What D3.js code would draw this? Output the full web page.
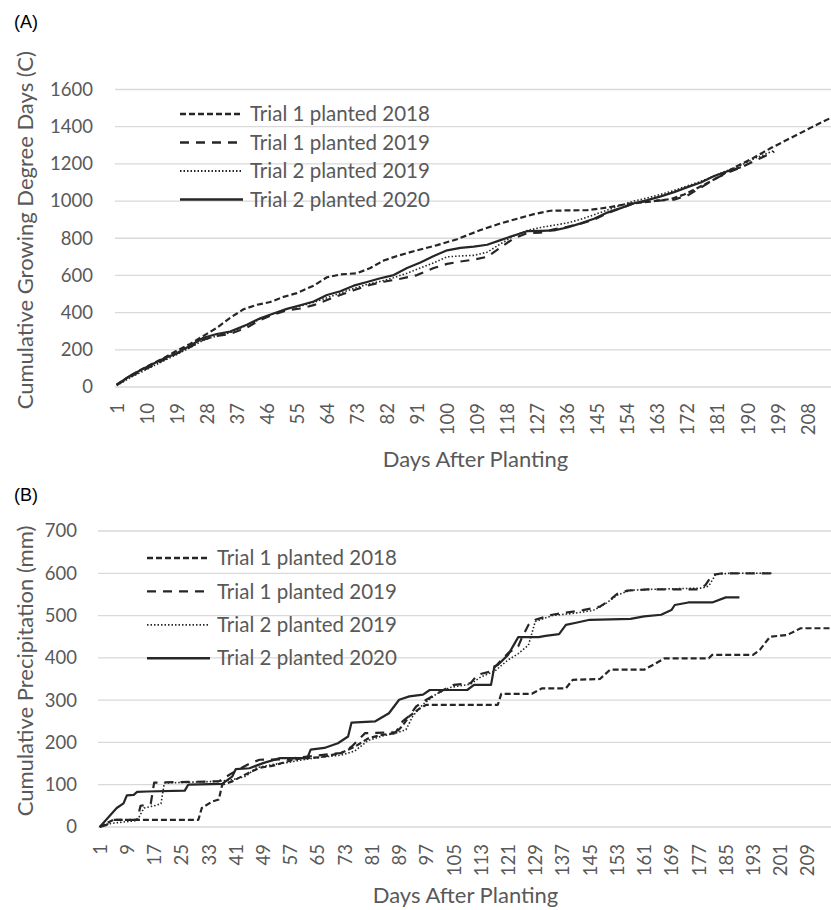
<!DOCTYPE html>
<html>
<head>
<meta charset="utf-8">
<script src="https://cdn.jsdelivr.net/npm/d3@7"></script>
<style>
  html, body { margin: 0; padding: 0; background: #fff; }
  svg { display: block; }
  text { font-family: Lato, "Open Sans", "Liberation Sans", sans-serif; }
</style>
</head>
<body>
<svg id="chart" width="831" height="910"></svg>
<script>
// ---- Data -------------------------------------------------------------
const seriesNames = [
  "Trial 1 planted 2018",
  "Trial 1 planted 2019",
  "Trial 2 planted 2019",
  "Trial 2 planted 2020"
];

// Cumulative growing degree days (C), as [day after planting, value]
const gddT1y2018 = [[1,12],[5,60],[10,110],[15,155],[19,195],[23,232],[27,275],[31,318],[35,372],[39,418],[43,442],[47,457],[51,485],[55,505],[60,545],[64,590],[68,605],[73,612],[77,640],[81,680],[85,705],[91,735],[97,763],[103,795],[110,844],[116,880],[121,905],[126,930],[131,948],[137,950],[142,951],[148,965],[154,985],[160,995],[167,1011],[171,1035],[175,1070],[181,1125],[186,1180],[191,1225],[197,1285],[203,1340],[209,1395],[216,1457]];
const gddT1y2019 = [[1,10],[5,55],[10,100],[15,145],[19,180],[23,215],[27,255],[31,275],[35,285],[40,320],[44,360],[48,390],[52,412],[56,422],[60,440],[64,468],[68,495],[72,520],[76,545],[81,566],[86,582],[91,602],[96,640],[100,662],[104,675],[108,685],[112,700],[116,750],[120,800],[124,828],[128,830],[132,848],[136,862],[140,878],[144,900],[148,935],[152,962],[156,988],[160,1000],[164,1003],[168,1008],[172,1030],[176,1072],[180,1118],[184,1152],[188,1180],[192,1215],[198,1265]];
const gddT2y2019 = [[1,8],[5,50],[10,95],[15,140],[19,175],[23,212],[27,252],[31,275],[35,292],[40,332],[44,365],[48,395],[52,420],[56,435],[60,455],[64,480],[68,505],[72,530],[76,552],[80,568],[84,588],[88,612],[92,640],[96,668],[100,700],[104,705],[108,708],[112,725],[116,770],[120,812],[124,842],[128,858],[132,870],[136,882],[140,902],[144,926],[148,952],[152,977],[156,1000],[160,1017],[164,1036],[168,1057],[172,1082],[176,1106],[180,1135],[184,1165],[188,1192],[192,1228],[198,1272]];
const gddT2y2020 = [[1,12],[5,60],[10,108],[15,152],[19,182],[23,222],[27,265],[31,285],[35,298],[40,335],[44,370],[48,395],[52,420],[56,440],[60,460],[64,495],[68,515],[72,545],[76,565],[80,585],[84,602],[88,640],[92,670],[96,705],[100,735],[104,748],[108,755],[112,765],[116,790],[120,815],[124,838],[128,840],[132,842],[136,858],[140,880],[144,905],[148,938],[152,962],[156,988],[160,1005],[164,1025],[168,1048],[172,1075],[176,1100],[180,1135],[184,1160],[188,1182]];

// Cumulative precipitation (mm), as [day after planting, value]
const rainT1y2018 = [[1,0],[5,17],[30,17],[31,45],[34,60],[36,65],[37,100],[40,108],[44,125],[48,140],[52,145],[56,155],[60,162],[66,165],[72,175],[76,190],[80,210],[84,218],[88,222],[90,240],[92,262],[95,280],[97,289],[118,289],[119,315],[128,315],[131,328],[138,328],[140,348],[148,350],[151,372],[161,372],[164,385],[167,399],[180,399],[181,407],[193,407],[195,419],[198,450],[203,454],[207,470],[216,470]];
const rainT1y2019 = [[1,0],[3,5],[5,17],[12,17],[13,50],[16,55],[17,105],[36,108],[40,128],[45,150],[48,159],[56,160],[60,165],[66,170],[72,175],[75,190],[79,222],[88,224],[90,250],[92,263],[94,285],[97,301],[102,324],[105,336],[110,340],[112,360],[116,368],[119,395],[121,411],[124,427],[125,446],[127,478],[129,490],[134,502],[143,513],[148,521],[151,537],[153,551],[156,559],[162,562],[177,562],[179,572],[181,596],[184,600],[199,600]];
const rainT2y2019 = [[1,0],[4,8],[8,12],[12,15],[14,45],[17,50],[19,55],[20,104],[36,108],[40,112],[44,120],[47,140],[52,148],[56,152],[60,158],[66,165],[72,170],[76,180],[80,205],[84,215],[88,222],[91,230],[93,262],[96,290],[100,315],[104,330],[110,338],[113,355],[117,368],[121,395],[124,410],[127,430],[129,486],[134,500],[140,505],[146,512],[150,530],[153,548],[157,560],[163,562],[178,565],[180,570],[182,597],[186,600],[199,600]];
const rainT2y2020 = [[1,0],[6,45],[8,56],[9,75],[11,76],[12,83],[15,84],[26,86],[27,100],[37,102],[40,120],[41,137],[45,139],[49,151],[54,163],[62,163],[63,183],[67,187],[71,198],[74,214],[75,247],[82,250],[86,269],[89,301],[92,309],[96,313],[98,324],[109,324],[111,336],[116,336],[117,380],[118,383],[121,407],[124,449],[130,449],[132,452],[136,456],[138,478],[141,483],[145,490],[157,492],[161,498],[166,502],[169,513],[170,525],[174,531],[181,531],[185,543],[189,543]];

// Axis tick labels
const gddValueTicks = [0, 200, 400, 600, 800, 1000, 1200, 1400, 1600];
const rainValueTicks = [0, 100, 200, 300, 400, 500, 600, 700];
const gddDayTicks = [1,10,19,28,37,46,55,64,73,82,91,100,109,118,127,136,145,154,163,172,181,190,199,208];
const rainDayTicks = [1,9,17,25,33,41,49,57,65,73,81,89,97,105,113,121,129,137,145,153,161,169,177,185,193,201,209];
const dayCount = 216;

// ---- Styling ----------------------------------------------------------
const lineColor = "#262626";
const labelColor = "#595959";
const gridColor = "#d9d9d9";
const seriesStyles = [
  { dash: "6,3",   width: 2.2 },
  { dash: "9,7",   width: 2.2 },
  { dash: "1.5,2", width: 1.6 },
  { dash: null,    width: 2.2 }
];

const svg = d3.select("#chart");
svg.append("rect").attr("width", 831).attr("height", 910).attr("fill", "#fff");

function drawPanel(cfg) {
  const g = svg.append("g");
  const x = d3.scaleLinear().domain([0.5, dayCount + 0.5]).range([cfg.left, cfg.right]);
  const y = d3.scaleLinear().domain([0, cfg.yMax]).range([cfg.bottom, cfg.top]);

  // horizontal gridlines
  g.append("g").selectAll("line").data(cfg.yTicks).join("line")
    .attr("x1", cfg.left).attr("x2", cfg.right)
    .attr("y1", d => y(d)).attr("y2", d => y(d))
    .attr("stroke", gridColor).attr("stroke-width", 1.3);

  // value axis
  const ya = g.append("g").attr("transform", `translate(${cfg.left},0)`)
    .call(d3.axisLeft(y).tickValues(cfg.yTicks).tickSize(0)
      .tickPadding(cfg.yPad).tickFormat(d3.format("d")));
  ya.select(".domain").remove();
  ya.selectAll("text").attr("fill", labelColor).style("font-size", "18.5px")
    .style("font-family", "Lato, 'Open Sans', sans-serif");

  // category axis (days after planting), rotated labels
  const xa = g.append("g").attr("transform", `translate(0,${cfg.bottom})`)
    .call(d3.axisBottom(x).tickValues(cfg.xTicks).tickSize(0).tickFormat(d3.format("d")));
  xa.select(".domain").remove();
  xa.selectAll("text")
    .attr("fill", labelColor).style("font-size", "18.5px")
    .style("font-family", "Lato, 'Open Sans', sans-serif")
    .attr("text-anchor", "end")
    .attr("transform", "rotate(-90)")
    .attr("x", -cfg.xPad).attr("y", 0).attr("dy", "0.35em");

  // series lines
  const line = d3.line().x(d => x(d[0])).y(d => y(d[1]));
  cfg.series.forEach((s, i) => {
    const st = seriesStyles[i];
    g.append("path").datum(s)
      .attr("d", line).attr("fill", "none")
      .attr("stroke", lineColor).attr("stroke-width", st.width)
      .attr("stroke-dasharray", st.dash)
      .attr("stroke-linejoin", "round");
  });

  // legend
  const lg = g.append("g");
  seriesNames.forEach((name, i) => {
    const st = seriesStyles[i];
    const ly = cfg.legendY + i * cfg.legendStep;
    lg.append("line")
      .attr("x1", cfg.legendX).attr("x2", cfg.legendX + 63)
      .attr("y1", ly).attr("y2", ly)
      .attr("stroke", lineColor).attr("stroke-width", st.width + 0.2)
      .attr("stroke-dasharray", st.dash);
    lg.append("text")
      .attr("x", cfg.legendX + 70).attr("y", ly).attr("dy", "0.35em")
      .attr("fill", labelColor).style("font-size", "20.5px")
      .text(name);
  });

  // axis titles
  g.append("text")
    .attr("x", (cfg.left + cfg.right) / 2).attr("y", cfg.xTitleY)
    .attr("text-anchor", "middle").attr("fill", labelColor)
    .style("font-size", "22px").text("Days After Planting");
  g.append("text")
    .attr("transform", `translate(${cfg.yTitleX},${(cfg.top + cfg.bottom) / 2 - 8}) rotate(-90)`)
    .attr("text-anchor", "middle").attr("fill", labelColor)
    .style("font-size", "22px").text(cfg.yTitle);

  // panel letter
  g.append("text")
    .attr("x", cfg.tagX).attr("y", cfg.tagY)
    .attr("fill", "#000").style("font-size", "18px")
    .style("font-family", "'Liberation Sans', Arial, sans-serif")
    .text(cfg.tag);
}

drawPanel({
  tag: "(A)", tagX: 14, tagY: 28,
  left: 115, right: 836, top: 89.5, bottom: 387, yMax: 1600,
  yTicks: gddValueTicks, xTicks: gddDayTicks, yPad: 22, xPad: 16,
  series: [gddT1y2018, gddT1y2019, gddT2y2019, gddT2y2020],
  legendX: 180, legendY: 114, legendStep: 28.5,
  xTitleY: 467, yTitleX: 33,
  yTitle: "Cumulative Growing Degree Days (C)"
});

drawPanel({
  tag: "(B)", tagX: 14, tagY: 501,
  left: 98, right: 833, top: 531, bottom: 827, yMax: 700,
  yTicks: rainValueTicks, xTicks: rainDayTicks, yPad: 21, xPad: 17,
  series: [rainT1y2018, rainT1y2019, rainT2y2019, rainT2y2020],
  legendX: 147, legendY: 558, legendStep: 33.4,
  xTitleY: 903, yTitleX: 33,
  yTitle: "Cumulative Precipitation (mm)"
});
</script>
</body>
</html>
